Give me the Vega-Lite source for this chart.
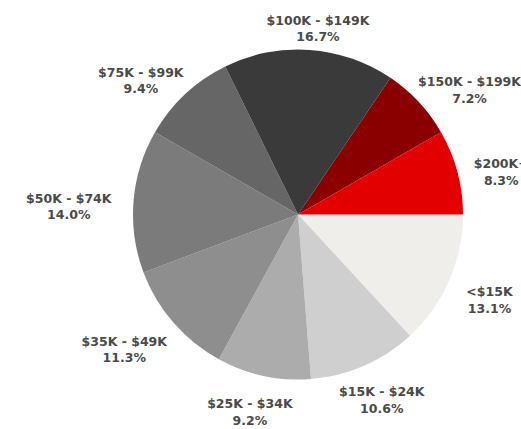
{
  "$schema": "https://vega.github.io/schema/vega-lite/v6.json",
  "autosize": {"type": "none"},
  "width": 446,
  "height": 429,
  "padding": {"left": 75, "top": 0, "right": 0, "bottom": 0},
  "background": "white",
  "view": {"stroke": null},
  "data": {
    "values": [
      {"bracket": "<$15K", "pct": 13.1, "order": 1},
      {"bracket": "$15K - $24K", "pct": 10.6, "order": 2},
      {"bracket": "$25K - $34K", "pct": 9.2, "order": 3},
      {"bracket": "$35K - $49K", "pct": 11.3, "order": 4},
      {"bracket": "$50K - $74K", "pct": 14.0, "order": 5},
      {"bracket": "$75K - $99K", "pct": 9.4, "order": 6},
      {"bracket": "$100K - $149K", "pct": 16.7, "order": 7},
      {"bracket": "$150K - $199K", "pct": 7.2, "order": 8},
      {"bracket": "$200K+", "pct": 8.3, "order": 9}
    ]
  },
  "encoding": {
    "theta": {"field": "pct", "type": "quantitative", "stack": true, "scale": {"range": [1.5707963, 7.8539816]}},
    "order": {"field": "order", "type": "quantitative"}
  },
  "layer": [
    {
      "mark": {"type": "arc", "outerRadius": 165},
      "encoding": {
        "color": {
          "field": "bracket",
          "type": "nominal",
          "legend": null,
          "scale": {
            "domain": ["<$15K", "$15K - $24K", "$25K - $34K", "$35K - $49K", "$50K - $74K", "$75K - $99K", "$100K - $149K", "$150K - $199K", "$200K+"],
            "range": ["#f0eeea", "#cfcfcf", "#acacac", "#8e8e8e", "#7b7b7b", "#666666", "#3a3a3a", "#8a0000", "#e30000"]
          }
        }
      }
    },
    {
      "mark": {
        "type": "text",
        "radius": 194,
        "font": "DejaVu Sans",
        "fontSize": 12.5,
        "fontWeight": "bold",
        "fill": "#4a4a4a",
        "lineHeight": 16.5,
        "align": "center",
        "baseline": "middle",
        "dx": {"expr": "cos(PI*(datum.pct_start+datum.pct_end)/99.8) < 0 ? 36*cos(PI*(datum.pct_start+datum.pct_end)/99.8) : cos(PI*(datum.pct_start+datum.pct_end)/99.8)*(15 + 80*pow(max(-sin(PI*(datum.pct_start+datum.pct_end)/99.8), 0), 3))"}
      },
      "encoding": {
        "text": {"field": "label", "type": "nominal"}
      }
    }
  ],
  "transform": [
    {"calculate": "[datum.bracket, format(datum.pct, '.1f') + '%']", "as": "label"}
  ]
}
